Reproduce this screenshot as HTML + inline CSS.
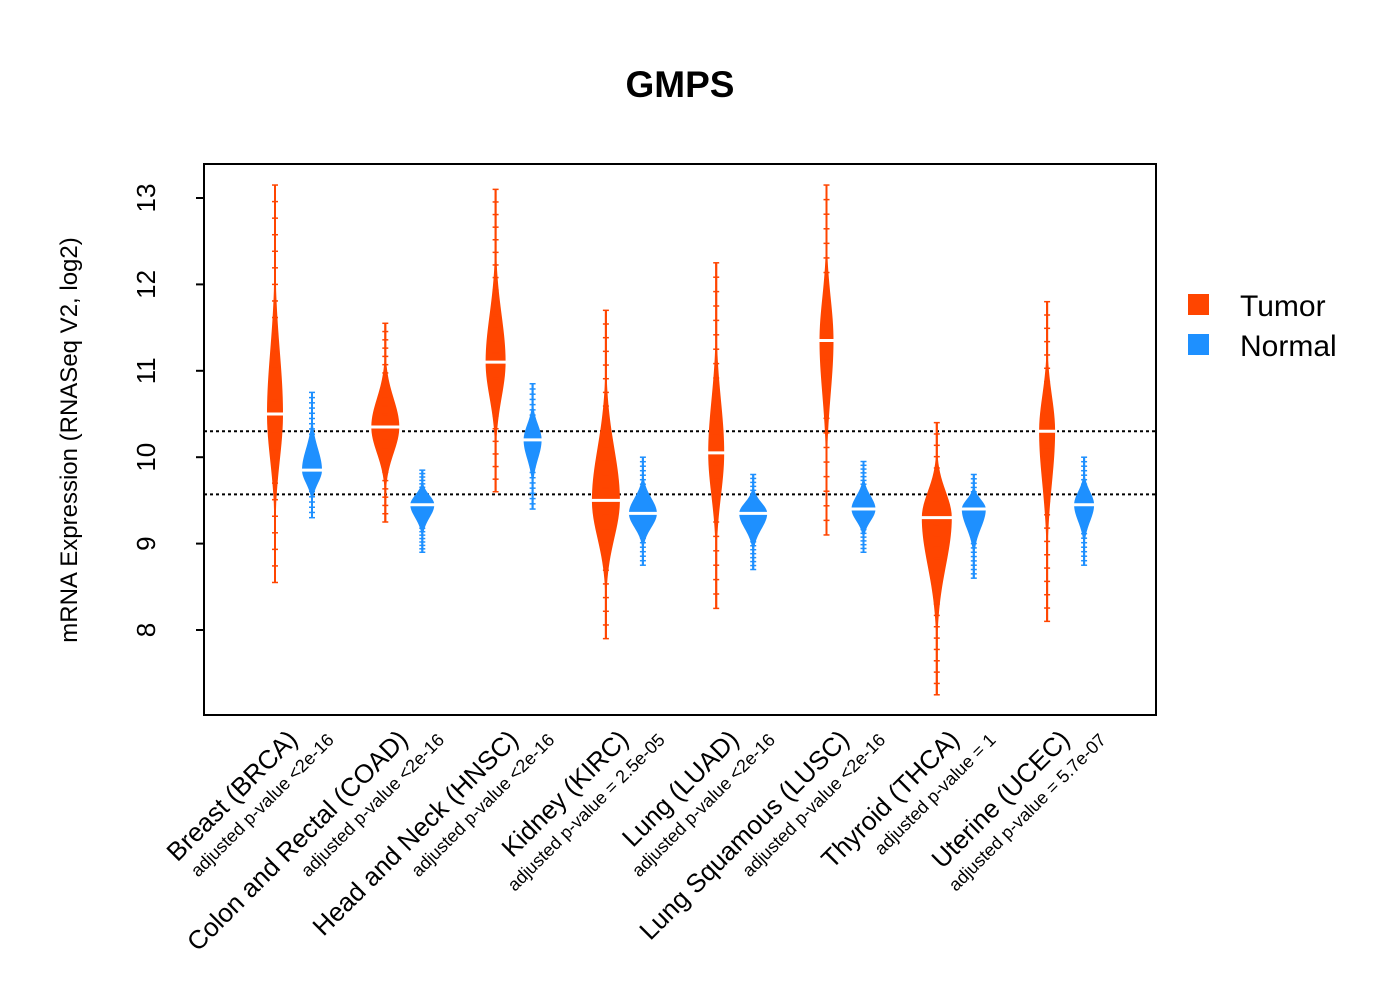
<!DOCTYPE html>
<html><head><meta charset="utf-8"><style>body{margin:0;background:#fff}svg{display:block}text{font-family:"Liberation Sans",Arial,sans-serif}</style></head>
<body>
<svg id="chart" width="1400" height="1000" viewBox="0 0 1400 1000">
<text x="680" y="97" text-anchor="middle" font-size="37" font-weight="bold">GMPS</text>
<rect x="204" y="164" width="952" height="551" fill="none" stroke="#000" stroke-width="2"/>
<text transform="translate(77,440) rotate(-90)" text-anchor="middle" font-size="24">mRNA Expression (RNASeq V2, log2)</text>
<g id="yaxis"></g><g id="marks"></g><g id="labels"></g>
<rect x="1188" y="294" width="21" height="21" fill="#FF4500"/>
<text x="1240" y="316" font-size="30">Tumor</text>
<rect x="1188" y="334" width="21" height="21" fill="#1E90FF"/>
<text x="1240" y="356" font-size="30">Normal</text>
</svg>
<script>
const categories=["Breast (BRCA)","Colon and Rectal (COAD)","Head and Neck (HNSC)","Kidney (KIRC)","Lung (LUAD)","Lung Squamous (LUSC)","Thyroid (THCA)","Uterine (UCEC)"];
const pvalues=["adjusted p-value <2e-16","adjusted p-value <2e-16","adjusted p-value <2e-16","adjusted p-value = 2.5e-05","adjusted p-value <2e-16","adjusted p-value <2e-16","adjusted p-value = 1","adjusted p-value = 5.7e-07"];
const tumorMin=[8.55,9.25,9.6,7.9,8.25,9.1,7.25,8.1];
const tumorMed=[10.5,10.35,11.1,9.5,10.05,11.35,9.3,10.3];
const tumorMax=[13.15,11.55,13.1,11.7,12.25,13.15,10.4,11.8];
const tumorWidth=[8,14,10,14,8,7,15,8];
const normalMin=[9.3,8.9,9.4,8.75,8.7,8.9,8.6,8.75];
const normalMed=[9.85,9.45,10.2,9.35,9.35,9.4,9.4,9.45];
const normalMax=[10.75,9.85,10.85,10.0,9.8,9.95,9.8,10.0];
const normalWidth=[10,12,9,14,14,12,12,10];
const refLines=[10.3,9.57];
const yTicks=[8,9,10,11,12,13];
const NS="http://www.w3.org/2000/svg";
function y(v){return 630-(v-8)*86.4;}
function xc(i,s){return 275+i*110.3+(s?37:0);}
function mk(t,a,p){const e=document.createElementNS(NS,t);for(const k in a)e.setAttribute(k,a[k]);p.appendChild(e);return e;}
const ya=document.getElementById('yaxis'),mg=document.getElementById('marks'),lg=document.getElementById('labels');
yTicks.forEach(t=>{
 const l=mk('line',{x1:196,x2:204,y1:y(t),y2:y(t),stroke:'#000','stroke-width':2},ya);
 
 
 const tx=mk('text',{transform:`translate(155,${y(t)}) rotate(-90)`,'text-anchor':'middle','font-size':26},ya);tx.textContent=t;
 
 
});
refLines.forEach(r=>{
 const l=mk('line',{x1:204,x2:1156,y1:y(r),y2:y(r),stroke:'#000','stroke-width':2,'stroke-dasharray':'3,3'},mg);
 
 
});
function violin(cx,mn,md,mx,hw,col,name){
 const g=mk('g',{},mg);
 
 
 mk('line',{x1:cx,x2:cx,y1:y(mn),y2:y(mx),stroke:col,'stroke-width':2},g);
 const su=(mx-md)/2.6,sd=(md-mn)/2.6;let L=[],R=[];
 for(let k=0;k<=60;k++){const v=mn+(mx-mn)*k/60;const s=v>md?su:sd;const w=Math.max(1,hw*Math.exp(-Math.pow((v-md)/s,2)));L.push(`${cx-w},${y(v)}`);R.unshift(`${cx+w},${y(v)}`);}
 mk('polygon',{points:L.concat(R).join(' '),fill:col},g);
 for(let k=0;k<=24;k++){const v=mn+(mx-mn)*k/24;mk('line',{x1:cx-3,x2:cx+3,y1:y(v),y2:y(v),stroke:col,'stroke-width':1.5},g);}
 mk('line',{x1:cx-hw-2,x2:cx+hw+2,y1:y(md),y2:y(md),stroke:'#fff','stroke-width':3},g);
}
categories.forEach((c,i)=>{
 violin(xc(i,0),tumorMin[i],tumorMed[i],tumorMax[i],tumorWidth[i],'#FF4500','tumor-violin');
 violin(xc(i,1),normalMin[i],normalMed[i],normalMax[i],normalWidth[i],'#1E90FF','normal-violin');
 const t=mk('text',{transform:`translate(${xc(i,0)+24},741) rotate(-45)`,'text-anchor':'end','font-size':26},lg);t.textContent=c;
 
 
 const p=mk('text',{transform:`translate(${xc(i,0)+60},741) rotate(-45)`,'text-anchor':'end','font-size':18},lg);p.textContent=pvalues[i];
 
 
});
</script>
</body></html>
